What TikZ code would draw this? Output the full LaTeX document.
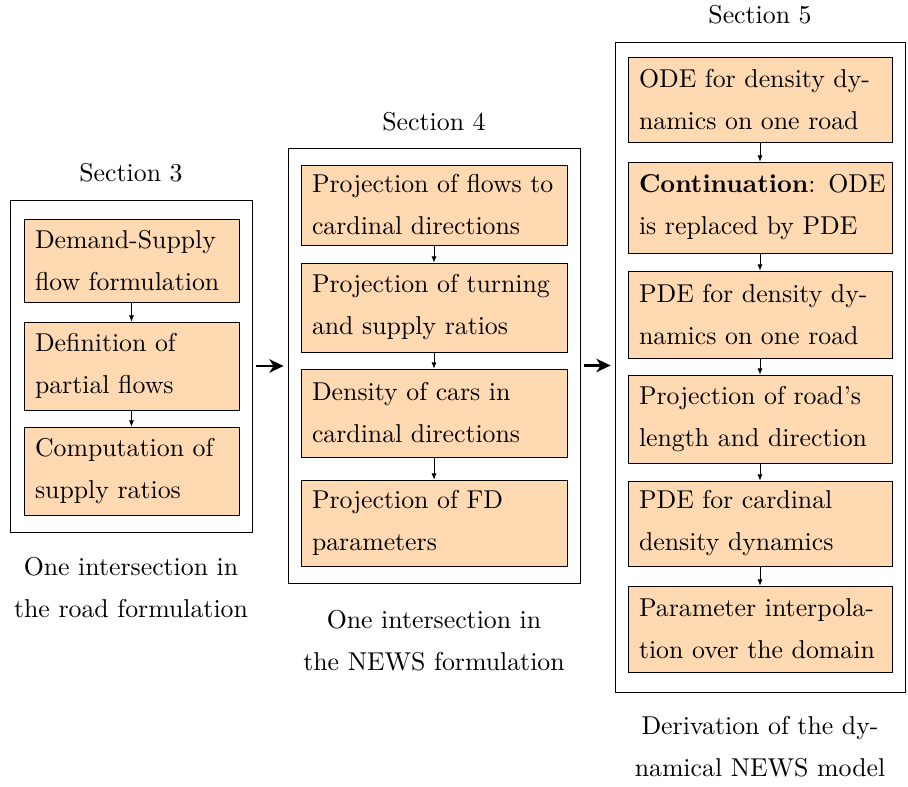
\documentclass[tikz,border=0pt]{standalone}
\usetikzlibrary{arrows.meta}
\begin{document}
\def\u{0.3876pt}
\begin{tikzpicture}[x=\u, y=-\u, line width=0.3pt,
  step box/.style={draw, fill=orange!30, align=left, inner xsep=11*\u, inner ysep=0pt,
    font={\fontsize{10}{16.3}\selectfont}},
  frame/.style={draw, fill=none},
  caption/.style={align=center, font={\fontsize{10}{16.3}\selectfont}},
  small arrow/.style={-{Latex[length=2.4pt,width=2pt]}},
  big arrow/.style={line width=1.1pt, -{Stealth[length=5.5pt,width=5.2pt,inset=1.6pt]}, shorten <=4*\u, shorten >=4*\u}
]
\useasboundingbox (0,0) rectangle (908,787);

% Frames
\node[frame, minimum width=242*\u, minimum height=332*\u] (f3) at (131,366) {};
\node[frame, minimum width=292*\u, minimum height=435*\u] (f4) at (434,365.5) {};
\node[frame, minimum width=290*\u, minimum height=650*\u] (f5) at (760,367) {};

% Titles
\node (t3) at (131,173) {Section 3};
\node (t4) at (434,122) {Section 4};
\node (t5) at (760,15) {Section 5};

% Section 3
\begin{scope}[every node/.append style={text width=215*\u-22*\u}]
\node[step box, minimum height=83*\u] (a1) at (131.5,260.5) {Demand-Supply\\flow formulation};
\node[step box, minimum height=88*\u] (a2) at (131.5,366) {Definition of\\partial flows};
\node[step box, minimum height=88*\u] (a3) at (131.5,471) {Computation of\\supply ratios};
\end{scope}

% Section 4
\begin{scope}[every node/.append style={text width=266*\u-22*\u}]
\node[step box, minimum height=80*\u] (b1) at (434,205) {Projection of flows to\\cardinal directions};
\node[step box, minimum height=89*\u] (b2) at (434,307.5) {Projection of turning\\and supply ratios};
\node[step box, minimum height=88*\u] (b3) at (434,413) {Density of cars in\\cardinal directions};
\node[step box, minimum height=86*\u] (b4) at (434,523) {Projection of FD\\parameters};
\end{scope}

% Section 5
\begin{scope}[every node/.append style={text width=264*\u-22*\u}]
\node[step box, minimum height=85*\u] (c1) at (760,99.5) {ODE for density dy-\\namics on one road};
\node[step box, minimum height=91*\u] (c2) at (760,207.5) {\mbox{\textbf{Continuation}: ODE}\\is replaced by PDE};
\node[step box, minimum height=87*\u] (c3) at (760,314.5) {PDE for density dy-\\namics on one road};
\node[step box, minimum height=88*\u] (c4) at (760,419) {Projection of road's\\length and direction};
\node[step box, minimum height=85*\u] (c5) at (760,523.5) {PDE for cardinal\\density dynamics};
\node[step box, minimum height=86*\u] (c6) at (760,629) {Parameter interpola-\\tion over the domain};
\end{scope}

% Captions
\node[caption] (l3) at (131,587.5) {One intersection in\\the road formulation};
\node[caption] (l4) at (434,640.5) {One intersection in\\the NEWS formulation};
\node[caption] (l5) at (760,747) {Derivation of the dy-\\namical NEWS model};

% Arrows inside frames
\draw[small arrow] (a1) -- (a2);
\draw[small arrow] (a2) -- (a3);
\draw[small arrow] (b1) -- (b2);
\draw[small arrow] (b2) -- (b3);
\draw[small arrow] (b3) -- (b4);
\draw[small arrow] (c1) -- (c2);
\draw[small arrow] (c2) -- (c3);
\draw[small arrow] (c3) -- (c4);
\draw[small arrow] (c4) -- (c5);
\draw[small arrow] (c5) -- (c6);

% Arrows between frames
\draw[big arrow] (f3.east) -- (f3.east -| f4.west);
\draw[big arrow] (f4.east) -- (f4.east -| f5.west);
\end{tikzpicture}
\end{document}
